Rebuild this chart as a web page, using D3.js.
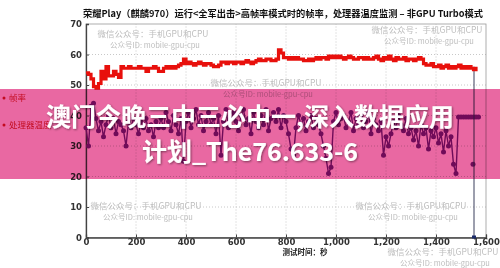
<!DOCTYPE html>
<html>
<head>
<meta charset="utf-8">
<script src="https://cdn.jsdelivr.net/npm/d3@7"></script>
<style>
  html, body { margin: 0; padding: 0; background: #fff; }
  svg { display: block; }
</style>
</head>
<body>
<script>
// frame rate, one sample every 10 s starting at 0
const fpsStep = 10;
const fpsValues = [
  54, 53.5, 52, 49.5, 49, 50.5, 54.5, 52, 56, 53,
  53, 54.5, 53.5, 52.5, 56, 55.5, 55.5, 56, 55.5, 55.5,
  55.5, 56, 55.5, 55.5, 54.5, 55.5, 55.5, 56, 55.5, 54.5,
  54.5, 55.5, 56, 55.5, 56, 55.5, 56, 56.5, 57, 58.5,
  57, 57.5, 57, 56.5, 57, 57.5, 57, 56.5, 57, 57,
  56.5, 56, 56, 56.5, 57.5, 57.5, 57, 57.5, 57.5, 57,
  57.5, 57.5, 57, 57.5, 58, 57.5, 57, 57.5, 58, 58.5,
  58, 58, 58.5, 58.5, 58, 58, 58.5, 61.5, 60.5, 59,
  59, 58.5, 59, 58.5, 59, 58.5, 58.5, 58, 58, 58.5,
  58, 58.5, 59, 58.5, 59, 59, 58.5, 59.5, 59, 59.5,
  59, 59.5, 59, 58.5, 59, 59.5, 59, 58.5, 58.5, 59,
  59, 58.5, 59, 58.5, 58.5, 59, 59.5, 58.5, 58, 59,
  58.5, 59.5, 58.5, 58, 59, 58.5, 58.5, 59, 58, 58.5,
  58.5, 58, 58.5, 59, 58.5, 57, 56.5, 56.5, 57, 56,
  56, 56.5, 55.5, 56, 56.5, 55.5, 56, 55.5, 56, 56.5,
  55.5, 56, 55.5, 56, 55.5, 55, 56
];

// processor temperature, one sample every 10 s starting at 0
const tempStep = 10;
const tempValues = [
  36, 30, 43, 44, 39, 35, 38, 33, 37, 40,
  36, 39, 34, 38, 37, 35, 30, 38, 36, 39,
  37, 34, 38, 36, 39, 35, 37, 33, 38, 36,
  39, 36, 41, 38, 35, 40, 37, 34, 39, 25,
  38, 41, 36, 39, 42, 37, 40, 35, 38, 41,
  37, 39, 34, 40, 27, 38, 42, 36, 39, 41,
  38, 35, 40, 42, 37, 39, 34, 41, 38, 36,
  40, 37, 42, 35, 39, 41, 38, 42, 36, 40,
  38, 34, 29, 27, 36, 40, 37, 39, 35, 38,
  40, 36, 39, 37, 34, 30, 26, 21, 23, 38,
  41, 37, 39, 40, 36, 38, 41, 35, 39, 37,
  40, 36, 38, 41, 34, 39, 37, 35, 38, 27,
  33, 30, 34, 38, 36, 40, 37, 35, 39, 34,
  36, 32, 35, 30, 37, 34, 36, 29, 35, 33,
  36, 31, 34, 28, 35, 30, 33, 24, 21, 39.5,
  39.5, 39.5, 39.5, 39.5, 39.5, 39.5, 39.5, 39.5
];
const tempOutliers = [[1548, 24]];
const endDrop = [[1552, 56], [1552, 0]];

const xTicks = [0, 200, 400, 600, 800, 1000, 1200, 1400, 1600];
const yTicks = [0, 10, 20, 30, 40, 50, 60, 70];

const titleText = "荣耀Play（麒麟970）运行<全军出击>高帧率模式时的帧率，处理器温度监测 – 非GPU Turbo模式";
const xLabel = "测试时间：秒";
const legendNames = ["帧率", "处理器温度"];
const markLine1 = "微信公众号：手机GPU和CPU";
const markLine2 = "公众号ID: mobile-gpu-cpu";
const bannerLines = ["澳门今晚三中三必中一,深入数据应用", "计划_The76.633-6"];

const w = 500;
const h = 268;

const fpsData = fpsValues.map((v, i) => [i * fpsStep, v]);
const tempData = tempValues.map((v, i) => [i * tempStep, v]);

const xScale = d3.scaleLinear().domain([0, 1600]).range([86, 486]);
const yScale = d3.scaleLinear().domain([0, 70]).range([237.5, 24]);

const svg = d3.select("body")
              .append("svg")
              .attr("width", w)
              .attr("height", h);

svg.append("rect")
   .attr("width", w)
   .attr("height", h)
   .attr("fill", "#fff");

const defs = svg.append("defs");
defs.append("filter")
    .attr("id", "shadow")
    .attr("x", "-10%").attr("y", "-30%")
    .attr("width", "120%").attr("height", "160%")
    .append("feDropShadow")
    .attr("dx", 1).attr("dy", 1)
    .attr("stdDeviation", 0.8)
    .attr("flood-color", "#000")
    .attr("flood-opacity", 0.45);

// title
svg.append("text")
   .attr("x", 283)
   .attr("y", 17)
   .attr("text-anchor", "middle")
   .style("font-family", "'Noto Sans CJK SC', sans-serif")
   .style("font-weight", "bold")
   .style("font-size", "9.5px")
   .attr("textLength", 400)
   .attr("lengthAdjust", "spacingAndGlyphs")
   .attr("fill", "#111")
   .text(titleText);

// grid
svg.append("g")
   .selectAll("line")
   .data(yTicks.slice(1, -1))
   .enter()
   .append("line")
   .attr("x1", xScale(0)).attr("x2", xScale(1600))
   .attr("y1", (d) => yScale(d)).attr("y2", (d) => yScale(d))
   .attr("stroke", "#c8c8c8")
   .attr("stroke-dasharray", "1,2");

svg.append("g")
   .selectAll("line")
   .data(xTicks.slice(1, -1))
   .enter()
   .append("line")
   .attr("x1", (d) => xScale(d)).attr("x2", (d) => xScale(d))
   .attr("y1", yScale(0)).attr("y2", yScale(70))
   .attr("stroke", "#c8c8c8")
   .attr("stroke-dasharray", "1,2");

// box
svg.append("rect")
   .attr("x", xScale(0))
   .attr("y", yScale(70))
   .attr("width", xScale(1600) - xScale(0))
   .attr("height", yScale(0) - yScale(70))
   .attr("fill", "none")
   .attr("stroke", "#999")
   .attr("stroke-width", 0.8);

// axes, ticks point inward
const xAxis = d3.axisBottom(xScale).tickValues(xTicks).tickSize(-3).tickPadding(1);
const yAxis = d3.axisLeft(yScale).tickValues(yTicks).tickSize(-3).tickPadding(4);

const gx = svg.append("g")
              .attr("transform", "translate(0," + yScale(0) + ")")
              .call(xAxis);
const gy = svg.append("g")
              .attr("transform", "translate(" + xScale(0) + ",0)")
              .call(yAxis);

[gx, gy].forEach((g) => {
  g.select(".domain").attr("stroke", "#444").attr("stroke-width", 1.3);
  g.selectAll(".tick line").attr("stroke", "#444");
  g.selectAll(".tick text")
   .attr("fill", "#333")
   .style("font-family", "'DejaVu Sans', sans-serif")
   .style("font-weight", "bold")
   .style("font-size", "8.5px");
});

svg.append("text")
   .attr("x", 305)
   .attr("y", 255)
   .attr("text-anchor", "middle")
   .style("font-family", "'Noto Sans CJK SC', sans-serif")
   .style("font-weight", "bold")
   .style("font-size", "7.5px")
   .attr("fill", "#222")
   .text(xLabel);

// watermarks
const marks = [[153, 34], [427, 30], [266, 83], [146, 206], [411, 206], [443, 252]];
marks.forEach((m) => {
  const g = svg.append("g").attr("fill", "#bdbdbd")
               .style("font-family", "'Noto Sans CJK SC', sans-serif")
               .attr("text-anchor", "middle");
  g.append("text").attr("x", m[0]).attr("y", m[1] + 3)
   .style("font-size", "8.5px").text(markLine1);
  g.append("text").attr("x", m[0] + 2).attr("y", m[1] + 13.5)
   .style("font-size", "7.5px").text(markLine2);
});

// temperature series
const line = d3.line().x((d) => xScale(d[0])).y((d) => yScale(d[1]));

svg.append("path")
   .datum(tempData)
   .attr("d", line)
   .attr("fill", "none")
   .attr("stroke", "#7a1a8c")
   .attr("stroke-width", 1.4);

svg.append("g")
   .selectAll("circle")
   .data(tempData.concat(tempOutliers))
   .enter()
   .append("circle")
   .attr("cx", (d) => xScale(d[0]))
   .attr("cy", (d) => yScale(d[1]))
   .attr("r", 2.5)
   .attr("fill", "#7a1a8c");

// frame rate series
svg.append("path")
   .datum(endDrop)
   .attr("d", line)
   .attr("stroke", "#3a3f5c")
   .attr("stroke-width", 1);

svg.append("rect")
   .datum(endDrop[1])
   .attr("x", (d) => xScale(d[0]) - 2)
   .attr("y", (d) => yScale(d[1]) - 2)
   .attr("width", 4)
   .attr("height", 3)
   .attr("fill", "#1a2a6a");

svg.append("path")
   .datum(fpsData)
   .attr("d", line.curve(d3.curveStepAfter))
   .attr("fill", "none")
   .attr("stroke", "#e8100c")
   .attr("stroke-width", 3.2)
   .attr("stroke-linejoin", "miter");

// legend
legendNames.forEach((name, i) => {
  const g = svg.append("g")
               .attr("fill", "#d61830")
               .style("font-family", "'Noto Sans CJK SC', sans-serif")
               .style("font-size", "8.5px");
  g.append("circle").attr("cx", 4).attr("cy", 98 + i * 27).attr("r", 1.5);
  g.append("text").attr("x", 9).attr("y", 101 + i * 27).text(name);
});

// banner overlay
svg.append("rect")
   .attr("x", 0)
   .attr("y", 89)
   .attr("width", w)
   .attr("height", 90)
   .attr("fill", "rgb(233,104,162)")
   .style("mix-blend-mode", "multiply");

svg.append("g")
   .attr("fill", "#fff")
   .attr("text-anchor", "middle")
   .attr("filter", "url(#shadow)")
   .style("font-family", "'Noto Sans CJK SC', sans-serif")
   .style("font-weight", "bold")
   .style("font-size", "25px")
   .selectAll("text")
   .data(bannerLines)
   .enter()
   .append("text")
   .attr("x", 250)
   .attr("y", (d, i) => 126 + i * 35)
   .text((d) => d);
</script>
</body>
</html>
